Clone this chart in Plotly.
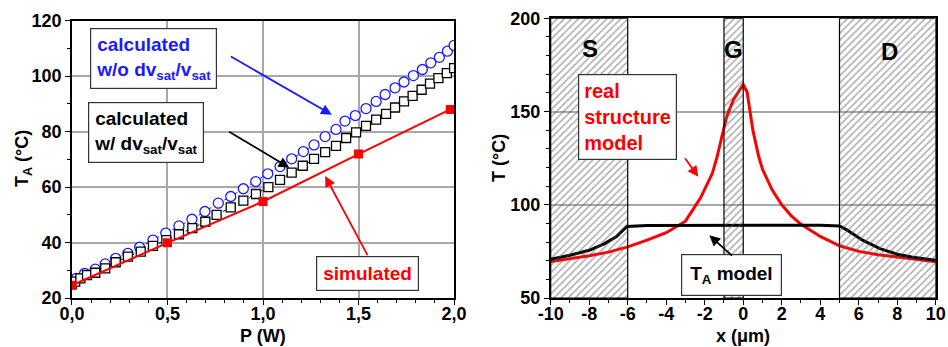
import plotly.graph_objects as go

# ---------------- Left panel data ----------------
P_wo = [0.0, 0.023, 0.066, 0.122, 0.174, 0.229, 0.293, 0.354, 0.424, 0.491, 0.560, 0.628,
        0.696, 0.766, 0.831, 0.897, 0.962, 1.025, 1.089, 1.150, 1.211, 1.267, 1.325, 1.382,
        1.429, 1.483, 1.539, 1.592, 1.639, 1.691, 1.738, 1.787, 1.834, 1.878, 1.923, 1.965, 2.0]
T_wo = [25.5, 27.1, 28.9, 30.4, 32.3, 34.3, 36.1, 38.3, 40.9, 43.4, 46.0, 48.4,
        51.2, 54.2, 56.6, 59.4, 62.0, 64.8, 67.4, 70.2, 72.8, 75.2, 78.2, 80.8,
        83.8, 85.8, 88.3, 90.9, 93.4, 95.8, 97.9, 100.2, 102.4, 104.8, 106.8, 109.0, 111.1]

P_w = [0.0, 0.017, 0.044, 0.079, 0.122, 0.174, 0.229, 0.293, 0.360, 0.424, 0.494, 0.560,
       0.630, 0.698, 0.757, 0.831, 0.897, 0.963, 1.028, 1.089, 1.150, 1.208, 1.267, 1.325,
       1.382, 1.435, 1.487, 1.539, 1.592, 1.644, 1.691, 1.738, 1.783, 1.830, 1.874, 1.918,
       1.962, 2.0]
T_w = [25.0, 25.9, 27.1, 28.3, 29.1, 30.7, 32.9, 34.9, 36.7, 38.8, 40.9, 43.0,
       45.2, 47.5, 50.0, 52.7, 55.1, 57.5, 60.0, 62.6, 65.2, 67.7, 70.2, 72.6,
       74.9, 77.7, 79.7, 82.1, 84.3, 86.4, 88.7, 90.9, 92.9, 95.1, 97.3, 99.3,
       101.1, 102.9]

P_sim = [0.0, 0.5, 1.0, 1.5, 1.98]
T_sim = [24.6, 39.9, 54.8, 71.9, 88.0]

P_ticks = [0.0, 0.5, 1.0, 1.5, 2.0]
P_ticktext = ["0,0", "0,5", "1,0", "1,5", "2,0"]
TA_ticks = [20, 40, 60, 80, 100, 120]

# ---------------- Right panel data ----------------
x_real = [-10, -9, -8, -7, -6, -5, -4, -3, -2.2, -1.6, -1.35, -1.1, -0.85, -0.5, -0.25, 0.0,
          0.2, 0.5, 0.8, 1.0, 1.5, 2.0, 2.5, 3.0, 4.0, 5.0, 6.0, 7.0, 8.0, 9.0, 10.0]
T_real = [69.5, 71.0, 72.7, 74.6, 77.4, 81.0, 85.0, 91.2, 104.0, 117.0, 126.0, 137.0, 147.5,
          156.5, 160.8, 164.5, 160.5, 140.0, 126.0, 119.0, 108.0, 100.0, 94.0, 89.5, 83.0,
          78.0, 75.0, 73.2, 72.0, 70.7, 69.5]

x_ta = [-10, -9, -8, -7.2, -6.6, -6.05, -5, -3, -1, 0, 2, 4, 5.0, 5.4, 6.2, 7.1, 8.0, 8.8, 10]
T_ta = [70.8, 72.9, 75.6, 79.2, 82.8, 88.3, 88.9, 89.0, 89.0, 89.0, 89.0, 89.0, 88.6,
        86.4, 81.0, 76.5, 73.5, 71.9, 70.2]

region_names = ["S", "G", "D"]
region_start = [-10, -1, 5]
region_end = [-6, 0, 10]
region_label_x = [-7.96, -0.5, 7.59]
region_label_T = [184, 183, 182]
T_range = [50, 200]

x_ticks = [-10, -8, -6, -4, -2, 0, 2, 4, 6, 8, 10]
x_ticktext = ["-10", "-8", "-6", "-4", "-2", "0", "2", "4", "6", "8", "10"]
T_ticks = [50, 100, 150, 200]

FONT = "Arial, Liberation Sans, sans-serif"
BLUE = "#1a1aff"
RED = "#ff0000"

fig = go.Figure()

# Left panel traces
fig.add_trace(go.Scatter(x=P_wo, y=T_wo, mode="lines+markers", xaxis="x", yaxis="y",
                         line=dict(color=BLUE, width=1, dash="dot"),
                         marker=dict(symbol="circle", size=10, color="white",
                                     line=dict(width=1.3, color=BLUE)),
                         showlegend=False))
fig.add_trace(go.Scatter(x=P_w, y=T_w, mode="lines+markers", xaxis="x", yaxis="y",
                         line=dict(color="black", width=1, dash="dot"),
                         marker=dict(symbol="square", size=9, color="white",
                                     line=dict(width=1.3, color="black")),
                         showlegend=False))
fig.add_trace(go.Scatter(x=P_sim, y=T_sim, mode="lines+markers", xaxis="x", yaxis="y",
                         line=dict(color=RED, width=2),
                         marker=dict(symbol="square", size=9, color=RED),
                         showlegend=False))

# Right panel curves
fig.add_trace(go.Scatter(x=x_real, y=T_real, mode="lines", xaxis="x2", yaxis="y2",
                         line=dict(color=RED, width=3), showlegend=False))
fig.add_trace(go.Scatter(x=x_ta, y=T_ta, mode="lines", xaxis="x2", yaxis="y2",
                         line=dict(color="black", width=3), showlegend=False))

# Hatched regions (drawn over curves, as in the original)
for x0, x1 in zip(region_start, region_end):
    fig.add_trace(go.Scatter(
        x=[x0, x1, x1, x0, x0], y=[T_range[0], T_range[0], T_range[1], T_range[1], T_range[0]],
        mode="lines", fill="toself", xaxis="x2", yaxis="y2",
        line=dict(color="black", width=1.2),
        fillcolor="rgba(0,0,0,0)",
        fillpattern=dict(shape="/", fgcolor="#5a5a5a", size=5, solidity=0.3),
        hoverinfo="skip", showlegend=False))

tickfont = dict(family=FONT, size=18, color="black", weight="bold")

axis_common = dict(showline=True, linecolor="black", linewidth=1.5, mirror=True,
                   ticks="outside", ticklen=5, tickwidth=1.2, tickcolor="black",
                   tickfont=tickfont, zeroline=False, automargin=False)

fig.update_layout(
    width=948, height=347,
    margin=dict(l=0, r=0, t=0, b=0, autoexpand=False),
    paper_bgcolor="white", plot_bgcolor="white",
    font=dict(family=FONT, color="black"),
    xaxis=dict(domain=[0.0759, 0.479], range=[0, 2.0], tickvals=P_ticks, ticktext=P_ticktext,
               showgrid=True, gridcolor="#a8a8a8", gridwidth=1.5, ticklabelstandoff=-6,
               minor=dict(dtick=0.1, ticks="outside", ticklen=3, tickcolor="black", showgrid=False),
               anchor="y", **axis_common),
    yaxis=dict(domain=[0.1412, 0.9403], range=[20, 120], tickvals=TA_ticks,
               showgrid=True, gridcolor="#a8a8a8", gridwidth=1.5,
               minor=dict(dtick=10, ticks="outside", ticklen=3, tickcolor="black", showgrid=False),
               anchor="x", **axis_common),
    xaxis2=dict(domain=[0.5809, 0.9871], range=[-10, 10], tickvals=x_ticks, ticktext=x_ticktext,
                showgrid=False, ticklabelstandoff=-6,
                minor=dict(dtick=1, ticks="outside", ticklen=3, tickcolor="black", showgrid=False),
                anchor="y2", **axis_common),
    yaxis2=dict(domain=[0.1412, 0.9473], range=[50, 200], tickvals=T_ticks,
                showgrid=True, gridcolor="#a8a8a8", gridwidth=1.5,
                minor=dict(dtick=10, ticks="outside", ticklen=3, tickcolor="black", showgrid=False),
                anchor="x2", **axis_common),
)

ann_font = 19
titlefont = dict(family=FONT, size=18, color="black")
annotations = [
    # Axis titles
    dict(x=263 / 948, y=1 - 336 / 347, xref="paper", yref="paper", text="<b>P (W)</b>",
         showarrow=False, font=titlefont, xanchor="center", yanchor="middle"),
    dict(x=23 / 948, y=1 - 159 / 347, xref="paper", yref="paper", text="<b>T<sub>A</sub> (°C)</b>",
         showarrow=False, font=titlefont, textangle=-90, xanchor="center", yanchor="middle"),
    dict(x=743 / 948, y=1 - 336 / 347, xref="paper", yref="paper", text="<b>x (μm)</b>",
         showarrow=False, font=titlefont, xanchor="center", yanchor="middle"),
    dict(x=499 / 948, y=1 - 158 / 347, xref="paper", yref="paper", text="<b>T (°C)</b>",
         showarrow=False, font=titlefont, textangle=-90, xanchor="center", yanchor="middle"),
    # Left panel text boxes
    dict(x=0.427, y=106.2, xref="x", yref="y",
         text="<b>calculated<br>w/o dv<sub>sat</sub>/v<sub>sat</sub></b>",
         font=dict(family=FONT, size=ann_font, color=BLUE), align="left",
         showarrow=False, bordercolor="#333", borderwidth=1.2, borderpad=5, bgcolor="white"),
    dict(x=0.389, y=79.6, xref="x", yref="y",
         text="<b>calculated<br>w/ dv<sub>sat</sub>/v<sub>sat</sub></b>",
         font=dict(family=FONT, size=ann_font, color="black"), align="left",
         showarrow=False, bordercolor="#333", borderwidth=1.2, borderpad=5, bgcolor="white"),
    dict(x=1.549, y=28.8, xref="x", yref="y",
         text="<b>simulated</b>",
         font=dict(family=FONT, size=ann_font, color=RED), align="left",
         showarrow=False, bordercolor="#333", borderwidth=1.2, borderpad=6, bgcolor="white"),
    # Left panel arrows
    dict(x=1.360, y=86.1, ax=0.824, ay=107.4, xref="x", yref="y", axref="x", ayref="y",
         text="", showarrow=True, arrowhead=2, arrowsize=1.2, arrowwidth=1.8, arrowcolor=BLUE),
    dict(x=1.138, y=67.0, ax=0.815, ay=80.3, xref="x", yref="y", axref="x", ayref="y",
         text="", showarrow=True, arrowhead=2, arrowsize=1.2, arrowwidth=1.8, arrowcolor="black"),
    dict(x=1.325, y=64.0, ax=1.551, ay=34.9, xref="x", yref="y", axref="x", ayref="y",
         text="", showarrow=True, arrowhead=2, arrowsize=1.2, arrowwidth=1.8, arrowcolor=RED),
    # Right panel text boxes
    dict(x=-6.0, y=146.8, xref="x2", yref="y2",
         text="<b>real<br>structure<br>model</b>",
         font=dict(family=FONT, size=20, color=RED), align="left",
         showarrow=False, bordercolor="#333", borderwidth=1.2, borderpad=5, bgcolor="white"),
    dict(x=-0.59, y=62.2, xref="x2", yref="y2",
         text="<b>T<sub>A</sub> model</b>",
         font=dict(family=FONT, size=ann_font, color="black"), align="left",
         showarrow=False, bordercolor="#333", borderwidth=1.2, borderpad=8, bgcolor="white"),
    # Right panel arrows
    dict(x=-2.33, y=115.0, ax=-3.08, ay=125.7, xref="x2", yref="y2", axref="x2", ayref="y2",
         text="", showarrow=True, arrowhead=2, arrowsize=1.2, arrowwidth=1.8, arrowcolor=RED),
    dict(x=-1.76, y=83.7, ax=-0.51, ay=72.0, xref="x2", yref="y2", axref="x2", ayref="y2",
         text="", showarrow=True, arrowhead=2, arrowsize=1.2, arrowwidth=1.8, arrowcolor="black"),
]
for name, lx, ly in zip(region_names, region_label_x, region_label_T):
    annotations.append(dict(x=lx, y=ly, xref="x2", yref="y2",
                            text=f"<b>{name}</b>", showarrow=False,
                            font=dict(family=FONT, size=24, color="black")))
fig.update_layout(annotations=annotations)

fig.write_html("out.html", config={"displayModeBar": False},
               post_script="document.body.style.margin='0';")
